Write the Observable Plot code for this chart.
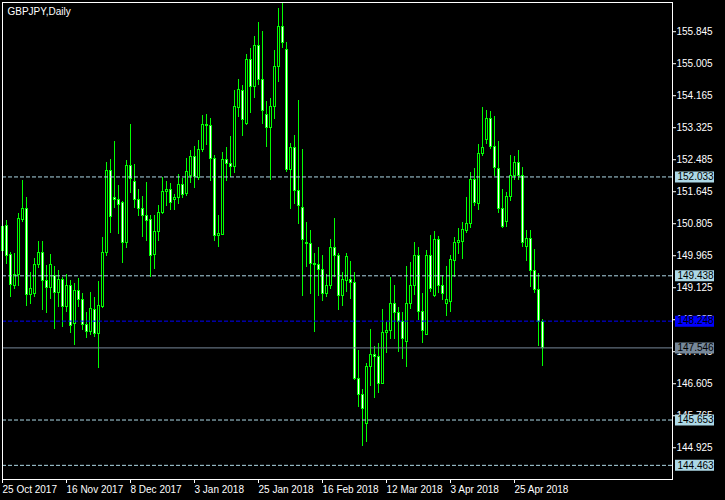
<!DOCTYPE html>
<html><head><meta charset="utf-8">
<script src="https://cdn.jsdelivr.net/npm/d3@7"></script>
<script src="https://cdn.jsdelivr.net/npm/@observablehq/plot@0.6"></script>
<style>html,body{margin:0;padding:0;background:#000;} svg{display:block}</style>
</head><body><div id="chart"></div>
<script>
const title = "GBPJPY,Daily";
const openP = [150.10,150.74,149.99,149.16,149.45,150.91,151.20,148.94,148.97,149.73,
150.04,149.31,149.12,149.42,148.98,149.33,148.61,149.16,148.18,149.05,
148.81,148.15,147.96,148.55,147.92,148.61,150.04,152.18,151.49,151.44,
151.35,150.29,152.33,151.91,151.43,151.20,151.00,150.89,149.99,150.58,
151.08,151.65,151.68,151.43,151.47,151.81,151.59,152.07,152.56,152.00,
152.73,153.40,153.38,152.51,150.48,150.51,152.47,152.38,152.29,153.84,
154.30,153.43,155.11,154.39,155.46,154.58,153.67,153.31,153.86,154.91,
155.98,155.37,152.22,152.80,151.66,151.22,150.30,150.28,149.76,149.71,
149.60,148.95,149.17,150.17,149.97,148.90,149.30,149.32,149.25,146.73,
146.30,145.55,147.04,147.35,147.32,146.60,147.93,147.98,148.69,148.47,
148.22,147.71,148.70,149.16,149.95,148.48,147.89,149.95,148.90,150.37,
149.18,148.70,148.75,149.82,150.30,150.32,150.61,150.79,151.94,151.33,
152.64,153.01,153.56,152.83,152.25,151.20,150.85,151.50,152.05,152.41,
152.05,150.20,150.41,149.56,149.07,148.22];
const highP = [150.79,150.89,150.06,150.02,151.07,151.94,151.50,149.53,149.88,150.34,
150.34,149.71,150.00,149.68,149.58,149.40,149.47,149.32,149.24,149.38,
148.98,148.47,148.99,148.88,149.29,150.45,152.42,152.48,152.96,151.81,
151.39,152.47,153.41,152.36,151.70,151.52,151.89,151.02,151.02,151.28,
152.03,151.91,151.85,151.57,152.10,151.99,152.51,152.73,152.84,152.99,
153.65,153.67,153.58,152.60,151.02,152.68,152.81,153.10,154.30,154.59,
154.43,155.25,155.40,155.72,156.09,155.85,154.01,154.10,155.35,156.46,
156.59,155.57,152.90,153.12,154.04,152.75,150.85,150.63,150.02,150.19,
149.97,149.47,150.39,150.93,150.02,149.53,150.02,149.81,149.53,147.48,
146.45,147.14,148.03,147.59,147.67,148.55,148.22,149.40,149.18,148.60,
148.47,149.68,149.78,150.30,150.17,148.97,150.10,150.50,150.60,150.47,
149.45,149.68,149.97,150.44,150.67,150.83,151.49,152.16,152.25,152.88,
153.85,153.78,153.75,153.62,152.96,151.70,151.63,152.60,152.57,152.73,
152.27,150.63,150.63,150.12,149.49,148.29];
const lowP = [149.50,149.74,148.88,149.08,149.17,150.85,148.64,148.69,148.88,149.64,
148.53,148.44,148.82,148.03,148.61,148.09,148.47,147.92,147.61,148.61,
148.00,147.80,147.87,147.83,147.00,148.57,149.95,150.56,151.21,150.51,
149.75,150.15,151.61,151.21,151.00,150.45,150.34,149.40,149.60,150.34,
151.05,151.26,151.15,151.15,151.31,151.46,151.52,151.85,151.74,151.94,
152.68,152.86,151.91,150.35,150.19,150.50,151.91,152.03,152.12,153.60,
153.10,153.38,153.69,154.10,154.43,153.41,152.81,151.94,153.54,154.52,
155.41,152.16,151.18,151.31,150.79,148.90,149.66,148.95,147.96,148.90,
148.76,148.88,149.07,149.40,148.53,148.63,148.99,148.82,146.69,145.99,
144.97,145.07,146.54,146.23,146.36,146.58,147.41,147.76,147.76,147.43,
147.23,147.04,148.55,148.92,148.27,147.67,147.87,149.01,148.88,148.98,
148.79,148.38,148.47,149.40,150.00,149.87,150.56,150.67,151.26,151.15,
152.58,152.88,152.75,152.05,151.08,150.69,150.71,151.40,151.94,151.94,
150.19,149.82,149.12,148.98,147.59,147.06];
const closeP = [150.73,149.95,149.20,149.47,150.93,151.20,148.94,149.10,149.73,150.04,
149.31,149.12,149.71,148.98,149.33,148.61,149.16,148.12,149.05,148.81,
148.15,147.96,148.57,147.92,148.64,150.04,152.18,150.98,151.44,151.30,
150.29,152.33,151.98,151.43,151.20,151.00,150.87,149.95,150.60,151.09,
151.65,151.68,151.35,151.49,151.81,151.56,152.16,152.56,152.03,152.75,
153.40,153.36,152.51,150.48,150.54,152.47,152.38,152.29,153.88,154.32,
153.53,155.11,154.39,155.46,154.58,153.76,153.31,153.88,154.93,155.98,
155.54,152.22,152.80,151.66,151.27,150.39,150.26,149.75,149.71,149.60,
148.95,149.18,150.17,149.95,148.90,149.32,149.93,149.24,146.73,146.31,
145.95,147.04,147.35,147.30,146.60,147.93,148.00,148.69,148.47,148.22,
147.79,148.70,149.16,149.95,148.48,148.00,149.97,149.10,150.37,149.18,
148.97,148.81,149.84,150.30,150.35,150.65,150.80,151.94,151.34,152.64,
152.80,153.56,152.81,152.27,151.20,150.71,151.50,152.05,152.41,152.05,
150.29,150.41,149.56,149.07,148.22,147.546];
const dateTickIndex = [0,16,32,48,64,80,96,112,128];
const dateTickLabels = ["25 Oct 2017","16 Nov 2017","8 Dec 2017","3 Jan 2018","25 Jan 2018","16 Feb 2018","12 Mar 2018","3 Apr 2018","25 Apr 2018"];
const priceTicks = [155.845,155.005,154.165,153.325,152.485,151.645,150.805,149.965,149.125,148.285,147.445,146.605,145.765,144.925];
const levelValues = [152.033,149.438,145.653,144.463];
const blueLevel = [148.248];
const bidLevel = [147.546];

const candles = openP.map((o, i) => ({i, open: o, high: highP[i], low: lowP[i], close: closeP[i]}));

// rectangular label box symbol, drawn to the right of the anchor point
const labelBox = {draw(ctx) { ctx.rect(2.5, -5.5, 39, 11); }};

const levelLabel = (vals, boxColor, textColor) => [
  Plot.dot(vals, {y: d => d, frameAnchor: "right", symbol: labelBox, fill: boxColor, stroke: null}),
  Plot.text(vals, {y: d => d, text: d => d.toFixed(3), frameAnchor: "right", dx: 5, textAnchor: "start", fill: textColor})
];

const chart = Plot.plot({
  width: 725, height: 500,
  marginLeft: 2, marginTop: 2, marginRight: 53, marginBottom: 21,
  style: {background: "#000", color: "#fff", fontFamily: "'Liberation Sans', Arial, sans-serif", fontSize: "10px"},
  x: {domain: [0, 167.5], axis: null, label: null},
  y: {domain: [144.0918, 156.6115], axis: null, label: null},
  marks: [
    Plot.ruleX(candles, {x: "i", y1: "low", y2: "high", stroke: "#00FF00", shapeRendering: "crispEdges"}),
    Plot.rect(candles, {x1: d => d.i - 0.25, x2: d => d.i + 0.25, y1: "open", y2: "close",
      fill: d => d.close >= d.open ? "#000" : "#fff", stroke: "#00FF00", shapeRendering: "crispEdges"}),
    Plot.ruleY(levelValues, {stroke: "#ADD8E6", strokeDasharray: "4,2"}),
    Plot.ruleY(blueLevel, {stroke: "#0000FF", strokeDasharray: "4,2"}),
    Plot.ruleY(bidLevel, {stroke: "#778899"}),
    Plot.frame({stroke: "#fff"}),
    Plot.axisY({anchor: "right", label: null, ticks: priceTicks, tickFormat: d => d.toFixed(3), tickSize: 3, tickPadding: 1, fill: "#fff", stroke: "#fff"}),
    Plot.axisX({label: null, ticks: dateTickIndex, tickFormat: d => dateTickLabels[dateTickIndex.indexOf(d)], tickSize: 4, tickPadding: 2, textAnchor: "start", fill: "#fff", stroke: "#fff"}),
    Plot.text([title], {frameAnchor: "top-left", dx: 5, dy: 5, lineAnchor: "top", textAnchor: "start", fill: "#fff"}),
    ...levelLabel(levelValues, "#ADD8E6", "#000"),
    ...levelLabel(blueLevel, "#0000FF", "#000"),
    ...levelLabel(bidLevel, "#778899", "#000")
  ]
});
document.getElementById("chart").append(chart);
</script>
</body></html>
